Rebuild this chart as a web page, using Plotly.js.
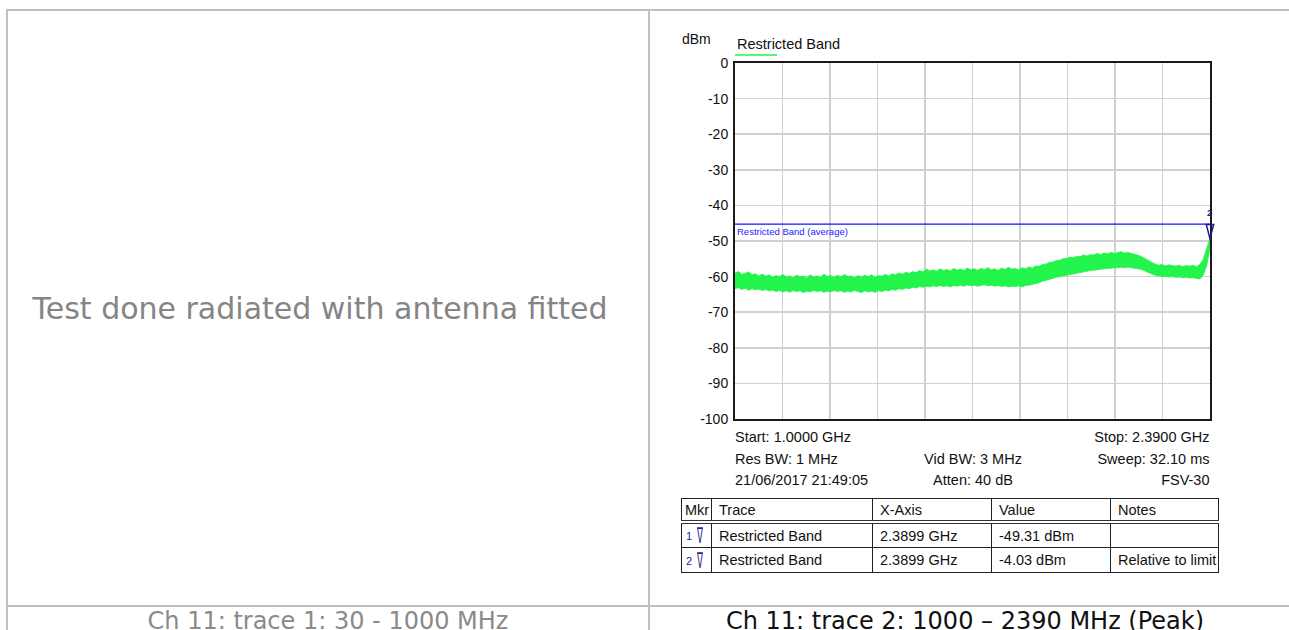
<!DOCTYPE html>
<html>
<head>
<meta charset="utf-8">
<script src="https://cdn.plot.ly/plotly-3.0.1.min.js"></script>
<style>
  html, body { margin:0; padding:0; background:#fff; width:1289px; height:630px; overflow:hidden; }
  #chart { position:absolute; left:0; top:0; width:1289px; height:630px; }
  .ln { position:absolute; background:#c0c0c0; }
  .txt { position:absolute; white-space:nowrap; }
  .spec { position:absolute; font-family:"Liberation Sans", Arial, sans-serif; font-size:14.5px; color:#111; line-height:18px; white-space:nowrap; }
  table.mk { position:absolute; left:681px; top:498px; width:537px; border-collapse:collapse; table-layout:fixed;
             font-family:"Liberation Sans", Arial, sans-serif; font-size:14.5px; color:#111; }
  table.mk td { border:1.5px solid #222; padding:0 0 0 7px; white-space:nowrap; overflow:hidden; }
  table.mk tr.hd td { border-bottom:4px double #333; height:21px; }
  table.mk tr.r1 td { height:23px; }
  table.mk tr.r2 td { height:24px; }
  table.mk td.m { padding-left:4px; color:#1c1c8c; }
  .nab { display:inline-block; font-family:"DejaVu Sans", sans-serif; font-size:22px; transform:scaleX(0.4); transform-origin:left center; line-height:16px; vertical-align:middle; }
  .num { font-size:11px; vertical-align:middle; margin-right:5px; }
</style>
</head>
<body>
<div id="chart"></div>
<div id="overlay"></div>
<script>
// ---------------- data ----------------
const freqGHz = [1.00,1.01,1.02,1.03,1.04,1.05,1.06,1.07,1.08,1.09,1.10,1.11,1.12,1.13,1.14,1.15,1.16,1.17,1.18,1.19,
  1.20,1.21,1.22,1.23,1.24,1.25,1.26,1.27,1.28,1.29,1.30,1.31,1.32,1.33,1.34,1.35,1.36,1.37,1.38,1.39,
  1.40,1.41,1.42,1.43,1.44,1.45,1.46,1.47,1.48,1.49,1.50,1.51,1.52,1.53,1.54,1.55,1.56,1.57,1.58,1.59,
  1.60,1.61,1.62,1.63,1.64,1.65,1.66,1.67,1.68,1.69,1.70,1.71,1.72,1.73,1.74,1.75,1.76,1.77,1.78,1.79,
  1.80,1.81,1.82,1.83,1.84,1.85,1.86,1.87,1.88,1.89,1.90,1.91,1.92,1.93,1.94,1.95,1.96,1.97,1.98,1.99,
  2.00,2.01,2.02,2.03,2.04,2.05,2.06,2.07,2.08,2.09,2.10,2.11,2.12,2.13,2.14,2.15,2.16,2.17,2.18,2.19,
  2.20,2.21,2.22,2.23,2.24,2.25,2.26,2.27,2.28,2.29,2.30,2.31,2.32,2.33,2.34,2.35,2.36,2.37,2.38,2.385,2.3899];
const upperDbm = [-59.0,-58.6,-59.4,-59.1,-58.7,-59.5,-59.2,-59.8,-59.3,-59.9,-59.5,-60.2,-59.7,-60.0,-59.4,-60.1,-59.8,-60.3,-59.6,-60.0,
  -59.9,-60.3,-59.5,-60.1,-59.8,-60.2,-59.3,-60.0,-59.7,-60.2,-59.6,-60.1,-59.4,-60.0,-59.8,-60.3,-59.7,-60.1,-59.6,-60.0,
  -59.5,-60.2,-59.7,-59.9,-59.4,-59.8,-59.2,-59.5,-59.0,-59.3,-58.8,-59.1,-58.6,-58.9,-58.3,-58.7,-57.9,-58.4,-58.1,-58.5,
  -57.8,-58.3,-58.0,-58.4,-57.7,-58.2,-57.9,-58.3,-57.6,-58.1,-57.8,-58.2,-57.7,-58.0,-57.5,-58.1,-57.8,-58.3,-57.6,-58.0,
  -57.4,-57.9,-57.7,-58.1,-57.5,-57.8,-57.3,-57.6,-57.0,-57.1,-56.6,-56.5,-56.0,-55.9,-55.5,-55.4,-55.0,-54.9,-54.5,-54.7,
  -54.3,-54.4,-53.9,-54.2,-53.8,-53.9,-53.5,-53.8,-53.4,-53.6,-53.2,-53.5,-53.3,-53.0,-53.4,-53.2,-53.5,-53.7,-54.0,-54.4,
  -54.9,-55.6,-56.1,-56.5,-56.8,-56.6,-57.0,-56.7,-56.9,-57.1,-56.8,-57.2,-56.9,-57.1,-56.8,-57.2,-56.6,-55.2,-52.2,-50.6,-49.31];
const lowerDbm = [-63.4,-63.1,-63.6,-63.3,-63.8,-63.4,-63.7,-63.5,-63.9,-63.6,-64.0,-63.8,-64.2,-63.9,-64.3,-64.0,-64.4,-63.9,-64.2,-64.0,
  -64.5,-64.1,-64.3,-63.9,-64.2,-64.0,-64.4,-64.1,-64.3,-63.9,-64.2,-64.0,-64.4,-64.1,-64.3,-63.9,-64.2,-64.5,-64.0,-64.3,
  -64.1,-64.4,-64.0,-64.2,-63.8,-64.0,-63.6,-63.8,-63.4,-63.6,-63.2,-63.4,-63.0,-63.2,-62.8,-63.0,-62.7,-62.9,-62.6,-62.8,
  -62.5,-62.8,-62.6,-62.9,-62.5,-62.7,-62.4,-62.7,-62.3,-62.6,-62.4,-62.7,-62.5,-62.3,-62.6,-62.4,-62.7,-62.5,-62.8,-62.6,
  -62.9,-62.7,-62.8,-62.6,-62.9,-62.5,-62.4,-62.2,-61.9,-61.7,-61.3,-61.1,-60.7,-60.5,-60.2,-60.0,-59.7,-59.6,-59.3,-59.2,
  -58.9,-58.8,-58.6,-58.5,-58.3,-58.2,-58.0,-57.9,-57.8,-57.7,-57.6,-57.5,-57.6,-57.4,-57.5,-57.3,-57.5,-57.6,-57.8,-58.0,
  -58.4,-58.9,-59.3,-59.6,-59.8,-60.0,-59.9,-60.1,-60.0,-60.2,-60.1,-60.3,-60.2,-60.4,-60.3,-60.6,-60.7,-59.6,-57.0,-54.6,-52.0];
const startGHz = 1.0;
const stopGHz = 2.39;
const limitLevel = -45.28;
const limitLabel = 'Restricted Band (average)';
const traceName = 'Restricted Band';
const markerFreq = 2.3899;
const markerLevel = -49.31;
const markerNumber = '2';
const yTickVals = [0,-10,-20,-30,-40,-50,-60,-70,-80,-90,-100];
const yTickText = ['0','-10','-20','-30','-40','-50','-60','-70','-80','-90','-100'];
const yUnit = 'dBm';
const specLeft = ['Start: 1.0000 GHz','Res BW: 1 MHz','21/06/2017 21:49:05'];
const specMid = ['','Vid BW: 3 MHz','Atten: 40 dB'];
const specRight = ['Stop: 2.3900 GHz','Sweep: 32.10 ms','FSV-30'];
const tableHeader = ['Mkr','Trace','X-Axis','Value','Notes'];
const markerNums = ['1','2'];
const markerTrace = ['Restricted Band','Restricted Band'];
const markerX = ['2.3899 GHz','2.3899 GHz'];
const markerValue = ['-49.31 dBm','-4.03 dBm'];
const markerNotes = ['','Relative to limit'];
const leftCellText = 'Test done radiated with antenna fitted';
const captionLeft = 'Ch 11: trace 1: 30 - 1000 MHz';
const captionRight = 'Ch 11: trace 2: 1000 \u2013 2390 MHz (Peak)';

// ---------------- chart ----------------
const GREEN = '#22f44c';
const NAVY = '#1c1c8c';
const FONT = '"Liberation Sans", Arial, sans-serif';
const L = 735, R = 1210, T = 63, B = 419;
const W = 1289, H = 630;
const px = x => (x - L) / (R - L);
const py = y => (B - y) / (B - T);
const markerPaperX = (markerFreq - startGHz) / (stopGHz - startGHz);

const traces = [
  { x: freqGHz, y: lowerDbm, mode: 'lines', line: { color: GREEN, width: 0.8 }, hoverinfo: 'skip', showlegend: false },
  { x: freqGHz, y: upperDbm, mode: 'lines', fill: 'tonexty', fillcolor: GREEN, line: { color: GREEN, width: 0.8 }, name: traceName, showlegend: false },
  { x: [startGHz, stopGHz], y: [limitLevel, limitLevel], mode: 'lines', line: { color: '#0a14ff', width: 1.3 }, showlegend: false }
];

const layout = {
  width: W, height: H,
  margin: { l: L, r: W - R, t: T, b: H - B, pad: 0 },
  paper_bgcolor: 'rgba(0,0,0,0)', plot_bgcolor: '#fff',
  showlegend: false,
  font: { family: FONT, size: 14, color: '#111' },
  xaxis: { range: [startGHz, stopGHz], tick0: startGHz, dtick: (stopGHz - startGHz) / 10,
           showticklabels: false, ticks: '', showgrid: true, gridcolor: '#d0d0d0', gridwidth: 1.5,
           zeroline: false, showline: true, linecolor: '#1a1a1a', linewidth: 2, mirror: true, fixedrange: true },
  yaxis: { range: [-100, 0], tickmode: 'array', tickvals: yTickVals, ticktext: yTickText, ticks: 'outside', ticklen: 2, tickcolor: 'rgba(0,0,0,0)',
           showgrid: true, gridcolor: '#d0d0d0', gridwidth: 1.5, zeroline: false,
           showline: true, linecolor: '#1a1a1a', linewidth: 2, mirror: true, fixedrange: true,
           tickfont: { family: FONT, size: 14, color: '#111' } },
  shapes: [
    { type: 'line', xref: 'paper', yref: 'paper', x0: px(735), x1: px(777), y0: py(55), y1: py(55), line: { color: GREEN, width: 1.5 } },
    { type: 'path', xref: 'paper', yref: 'y', xsizemode: 'pixel', ysizemode: 'pixel', xanchor: markerPaperX, yanchor: markerLevel,
      path: 'M -3.7 14 L 3.7 14 L 0 0 Z', line: { color: NAVY, width: 1.5 }, layer: 'above' }
  ],
  annotations: [
    { xref: 'paper', yref: 'paper', x: px(696.7), y: py(39.3), text: yUnit, showarrow: false, xanchor: 'center', yanchor: 'middle',
      font: { family: FONT, size: 14, color: '#111' } },
    { xref: 'paper', yref: 'paper', x: px(735), y: py(44), text: traceName, showarrow: false, xanchor: 'left', yanchor: 'middle',
      font: { family: FONT, size: 14.5, color: '#111' } },
    { xref: 'x', yref: 'y', x: startGHz, y: limitLevel, text: limitLabel, showarrow: false, xanchor: 'left', yanchor: 'top', yshift: 0,
      xshift: 0, font: { family: FONT, size: 9.5, color: '#2424ff' } },
    { xref: 'x', yref: 'y', x: markerFreq, y: markerLevel, text: '<b>' + markerNumber + '</b>', showarrow: false, xanchor: 'center', yanchor: 'middle',
      yshift: 26, font: { family: FONT, size: 9, color: NAVY } }
  ]
};

Plotly.newPlot('chart', traces, layout, { displayModeBar: false, staticPlot: true });

// ---------------- surrounding page ----------------
const ov = document.getElementById('overlay');
function add(html) { ov.insertAdjacentHTML('beforeend', html); }
// cell borders
add('<div class="ln" style="left:6px;top:9px;width:1283px;height:2px"></div>');
add('<div class="ln" style="left:6px;top:9px;width:2px;height:621px"></div>');
add('<div class="ln" style="left:648px;top:9px;width:2px;height:621px"></div>');
add('<div class="ln" style="left:6px;top:605px;width:1283px;height:2px"></div>');
// left cell text
add('<div class="txt" style="left:8px;width:624px;top:290px;line-height:38px;text-align:center;font-family:\'DejaVu Sans\',Verdana,sans-serif;font-size:30px;color:#858585">' + leftCellText + '</div>');
// captions
add('<div class="txt" style="left:8px;width:640px;top:606px;line-height:30px;text-align:center;font-family:\'DejaVu Sans\',Verdana,sans-serif;font-size:24px;color:#8a8a8a">' + captionLeft + '</div>');
add('<div class="txt" style="left:650px;width:630px;top:606px;line-height:30px;text-align:center;font-family:\'DejaVu Sans\',Verdana,sans-serif;font-size:24px;color:#111">' + captionRight + '</div>');
// spec lines
const rowY = [436.7, 459, 480];
for (let i = 0; i < 3; i++) {
  const top = rowY[i] - 9;
  add('<div class="spec" style="left:735px;top:' + top + 'px">' + specLeft[i] + '</div>');
  if (specMid[i]) add('<div class="spec" style="left:873px;width:200px;text-align:center;top:' + top + 'px">' + specMid[i] + '</div>');
  add('<div class="spec" style="right:79.5px;text-align:right;top:' + top + 'px">' + specRight[i] + '</div>');
}
// marker table
let tbl = '<table class="mk"><colgroup><col style="width:30px"><col style="width:161px"><col style="width:119px"><col style="width:119px"><col style="width:108px"></colgroup>';
tbl += '<tr class="hd">' + tableHeader.map((h, i) => '<td' + (i === 0 ? ' style="padding-left:3px"' : '') + '>' + h + '</td>').join('') + '</tr>';
for (let r = 0; r < markerNums.length; r++) {
  tbl += '<tr class="r' + (r + 1) + '"><td class="m"><span class="num">' + markerNums[r] + '</span><span class="nab">\u2207</span></td>' +
         '<td>' + markerTrace[r] + '</td><td>' + markerX[r] + '</td><td>' + markerValue[r] + '</td><td>' + markerNotes[r] + '</td></tr>';
}
tbl += '</table>';
add(tbl);
</script>
</body>
</html>
